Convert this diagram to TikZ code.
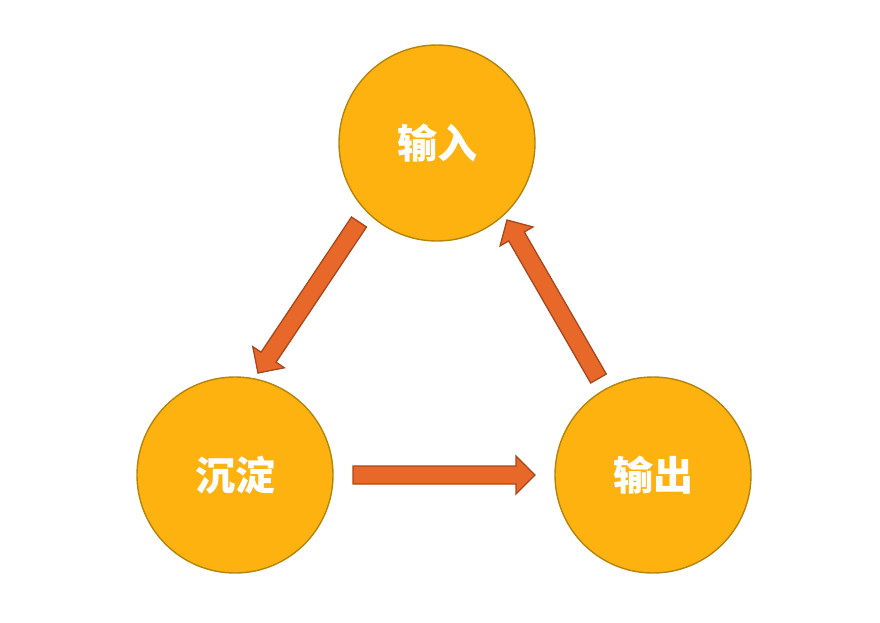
\documentclass[tikz,border=0pt]{standalone}
\usepackage{fontspec}
\newfontfamily\cjk{Noto Sans CJK SC}
\usetikzlibrary{calc}

\definecolor{discfill}{HTML}{FDB20F}
\definecolor{discline}{HTML}{B5840C}
\definecolor{arrowfill}{HTML}{E8682A}
\definecolor{arrowline}{HTML}{A8471B}

\tikzset{
  disc/.style={circle, minimum size=196pt, inner sep=0pt, fill=discfill,
    draw=discline, line width=1.4pt, text=white,
    font=\cjk\bfseries\fontsize{40}{42}\selectfont},
  blockarrow/.style={fill=arrowfill, draw=arrowline, line width=1.3pt,
    line join=miter},
}

% block arrow from tail #1 to tip #2: shaft 18 wide, head 38 wide and 19 long
\newcommand\blockarrow[2]{%
  \coordinate (hb) at ($(#2)!19pt!(#1)$);
  \draw[blockarrow]
    ($(#1)!9pt!90:(#2)$) -- ($(hb)!9pt!-90:(#1)$) -- ($(hb)!19pt!-90:(#1)$)
    -- (#2) -- ($(hb)!19pt!90:(#1)$) -- ($(hb)!9pt!90:(#1)$)
    -- ($(#1)!9pt!-90:(#2)$) -- cycle;
}

\begin{document}
\begin{tikzpicture}[x=1pt, y=-1pt]
  \useasboundingbox (0,0) rectangle (880,622);

  \node[disc] (in)  at (437,143) {输入};
  \node[disc] (sed) at (235,475) {沉淀};
  \node[disc] (out) at (653,475) {输出};

  % arrow ends between the discs
  \coordinate (sedT) at (353,475);   \coordinate (outH) at (535,475);
  \coordinate (outT) at (598.5,378.5); \coordinate (inH) at (507,220);
  \coordinate (inT)  at (359,222);   \coordinate (sedH) at (258,373);

  \blockarrow{sedT}{outH}
  \blockarrow{outT}{inH}
  \blockarrow{inT}{sedH}
\end{tikzpicture}
\end{document}
